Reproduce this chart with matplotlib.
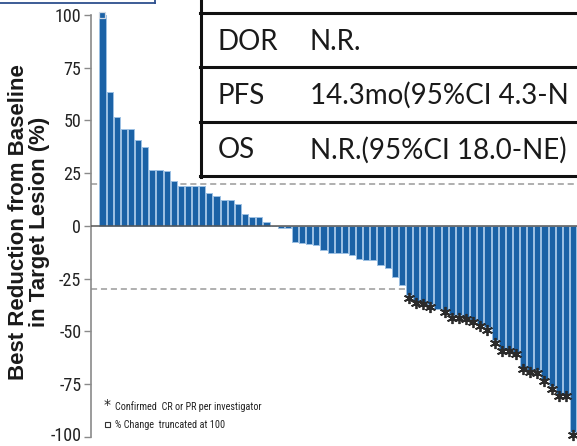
import matplotlib
matplotlib.use("Agg")
import matplotlib.pyplot as plt
from matplotlib.lines import Line2D
from matplotlib.patches import Rectangle
from matplotlib import font_manager as fm
import matplotlib.transforms as mtransforms
import numpy as np

# ---------------- data ----------------
changes = [100, 63.5, 51.8, 45.8, 45.8, 40.5, 37.6, 26.5, 26.5, 25.9,
           21.3, 19, 19, 19, 19, 15.8, 14.2, 12.2, 12.2, 10.4,
           5.5, 4, 4, 2, 0, -1, -1, -7.6, -8, -8.5,
           -9.2, -11.5, -12.9, -12.9, -12.9, -13.9, -15.5, -16.4, -16.4, -18.6,
           -20.2, -24.2, -28.1, -33, -35.6, -36.1, -37.2, -39.2, -39.8, -42.4,
           -42.4, -43.2, -44.5, -46.4, -48, -54.3, -58.2, -58.2, -59.8, -66.9,
           -68.2, -68.5, -72.5, -76.1, -79.6, -79.6, -98]
confirmed = [0] * 43 + [1, 1, 1, 1, 0] + [1] * 19
truncated = [1] + [0] * 66
y_ticks = [100, 75, 50, 25, 0, -25, -50, -75, -100]
ref_lines = [20, -30]
legend_items = ["Confirmed  CR or PR per investigator", "% Change  truncated at 100"]
table_rows = [("DOR", "N.R."),
              ("PFS", "14.3mo(95%CI 4.3-N"),
              ("OS", "N.R.(95%CI 18.0-NE)")]
y_label = "Best Reduction from Baseline\nin Target Lesion (%)"

# pick a narrow font if one is installed
_names = {f.name for f in fm.fontManager.ttflist}
_narrow = None
for n in ["Liberation Sans Narrow", "Roboto Condensed", "Open Sans Condensed",
          "Arial Narrow", "DejaVu Sans Condensed"]:
    if n in _names:
        _narrow = n
        break
if _narrow is None:
    for f in fm.fontManager.ttflist:
        if str(f.stretch) in ("condensed", "semi-condensed", "extra-condensed") and \
                "Sans" in f.name and f.style == "normal":
            _narrow = f.name
            break
narrow_ok = _narrow is not None
narrow_font = _narrow if narrow_ok else "Liberation Sans"

# ---------------- figure ----------------
W, H = 577, 446
fig = plt.figure(figsize=(W / 100, H / 100), dpi=100)

def fx(px):
    return px / W

def fy(py):
    return 1 - py / H

ax_left, ax_right = 91, 577
ax_top, ax_bot = 15, 436.7
ax = fig.add_axes([fx(ax_left), fy(ax_bot), fx(ax_right - ax_left), (ax_bot - ax_top) / H])

x = np.arange(len(changes))
bar_color = "#1b62a6"
ax.bar(x, changes, width=0.86, color=bar_color, edgecolor="#9cc0e3",
       linewidth=0.7, zorder=2)

ax.set_ylim(-100, 100)
ax.set_xlim(-1.61, len(changes) - 0.44)

for r in ref_lines:
    ax.axhline(r, color="#9a9a9a", linestyle=(0, (4, 2.5)), linewidth=1.1, zorder=1)
ax.axhline(0, color="#555555", linewidth=1.1, zorder=3)

# markers
cx = [xi for xi, c in zip(x, confirmed) if c]
cy = [v - 1.2 for v, c in zip(changes, confirmed) if c]
ax.plot(cx, cy, linestyle="none", marker=(6, 2, 0), markersize=8,
        markeredgecolor="#2b2b2b", markeredgewidth=1.3, zorder=4, clip_on=False)
tx = [xi for xi, t in zip(x, truncated) if t]
ty = [min(v, 100) for v, t in zip(changes, truncated) if t]
ax.plot(tx, ty, linestyle="none", marker="s", markersize=4.5,
        markerfacecolor="#1b62a6", markeredgecolor="#cfd8e3", markeredgewidth=0.9,
        zorder=4, clip_on=False)

# axes styling
for s in ["top", "right", "bottom"]:
    ax.spines[s].set_visible(False)
ax.spines["left"].set_color("#8a8a8a")
ax.spines["left"].set_linewidth(1.2)
ax.set_xticks([])
ax.set_yticks(y_ticks)
ax.set_yticklabels([str(t) for t in y_ticks], family=narrow_font,
                   fontsize=13 if narrow_ok else 11, color="#222222")
ax.tick_params(axis="y", length=5, width=1.0, color="#8a8a8a", pad=2)
# nudge the bottom label up slightly so it stays inside the figure
_lbls = ax.get_yticklabels()
_lbls[-1].set_transform(_lbls[-1].get_transform() +
                        mtransforms.ScaledTranslation(0, 3 / 100, fig.dpi_scale_trans))

# y label
fig.text(fx(29), fy(222), y_label, rotation=90, ha="center", va="center",
         multialignment="center", fontsize=16, fontweight="bold",
         family="Liberation Sans", color="#1a1a1a", linespacing=1.0)

# bottom-left legend
fig.text(fx(107), fy(405), "*", ha="center", va="center", fontsize=10,
         family="DejaVu Sans", color="#222222")
fig.add_artist(Rectangle((fx(104.5), fy(427)), fx(5), 5 / H, transform=fig.transFigure,
                         facecolor="white", edgecolor="#333333", linewidth=0.8))
leg_fs = 7.3 if narrow_ok else 6.5
fig.text(fx(115), fy(409.5), legend_items[0], ha="left", va="baseline", fontsize=leg_fs,
         family=narrow_font, color="#222222")
fig.text(fx(115), fy(428.5), legend_items[1], ha="left", va="baseline", fontsize=leg_fs,
         family=narrow_font, color="#222222")

# table overlay (top right)
tl, tb = 201, 175.5
fig.add_artist(Rectangle((fx(tl), fy(tb)), fx(W - tl + 5), (tb + 5) / H,
                         transform=fig.transFigure, facecolor="white",
                         edgecolor="none", zorder=5))
for yy in [12.7, 66.7, 121.7, 175.5]:
    fig.add_artist(Line2D([fx(tl - 1), 1.01], [fy(yy), fy(yy)], transform=fig.transFigure,
                          color="#111111", linewidth=2.2, zorder=6))
fig.add_artist(Line2D([fx(tl), fx(tl)], [fy(176.5), 1.01], transform=fig.transFigure,
                      color="#111111", linewidth=2.2, zorder=6))
baselines = [50, 104, 158.5]
for (lab, val), b in zip(table_rows, baselines):
    fig.text(fx(218), fy(b), lab, ha="left", va="baseline", fontsize=20,
             family="Lato", color="#1a1a1a", zorder=7)
    fig.text(fx(310), fy(b), val, ha="left", va="baseline", fontsize=20,
             family="Lato", color="#1a1a1a", zorder=7)

# top-left partial box
fig.add_artist(Line2D([0, fx(155)], [fy(3.3), fy(3.3)], transform=fig.transFigure,
                      color="#2d4f8e", linewidth=1.3))
fig.add_artist(Line2D([fx(155), fx(155)], [fy(3.3), 1.01], transform=fig.transFigure,
                      color="#2d4f8e", linewidth=1.3))

fig.savefig("out.png", dpi=100)
